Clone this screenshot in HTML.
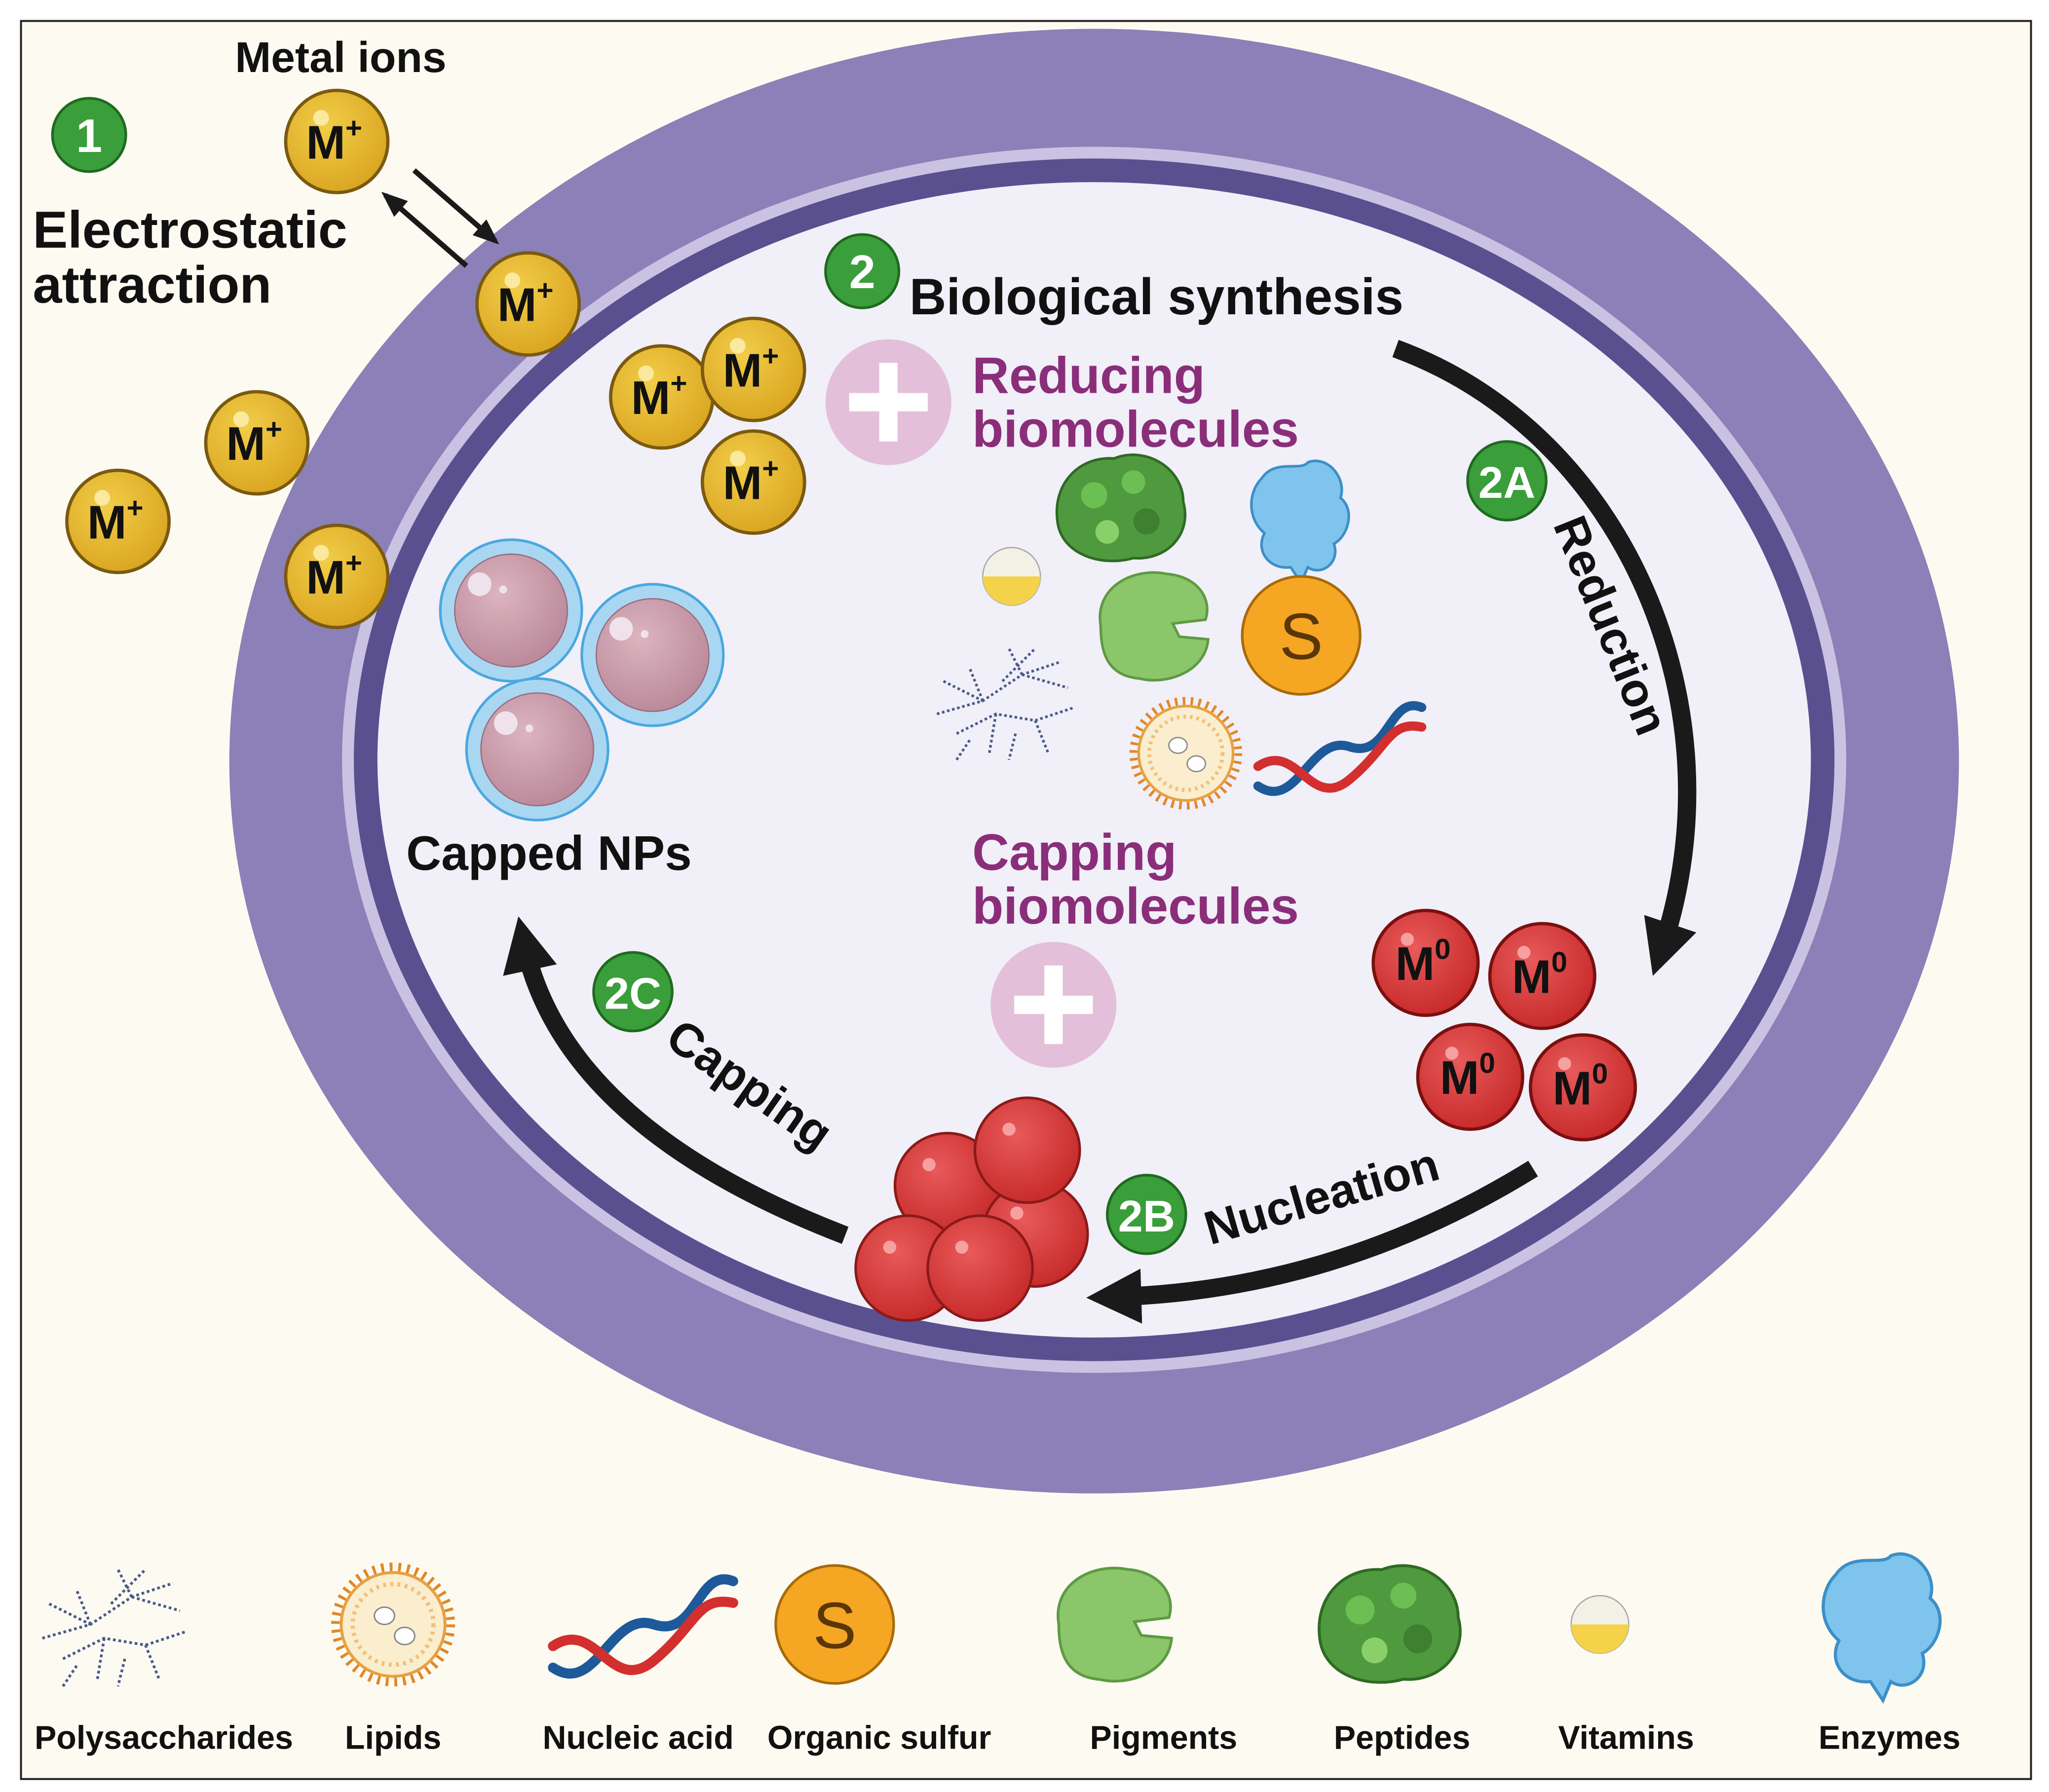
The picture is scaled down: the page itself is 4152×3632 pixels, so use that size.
<!DOCTYPE html>
<html><head><meta charset="utf-8"><style>
html,body{margin:0;padding:0;background:#fff;}
svg{display:block;}
text{font-family:"Liberation Sans",sans-serif;font-weight:bold;}
</style></head><body>
<svg width="4152" height="3632" viewBox="0 0 1563.7 1367.9" xmlns="http://www.w3.org/2000/svg">
<defs>
<radialGradient id="gold" cx="0.4" cy="0.35" r="0.7"><stop offset="0" stop-color="#f2cd48"/><stop offset="1" stop-color="#d9a420"/></radialGradient>
<radialGradient id="red" cx="0.4" cy="0.35" r="0.7"><stop offset="0" stop-color="#e85a5a"/><stop offset="1" stop-color="#c62828"/></radialGradient>
<radialGradient id="pink" cx="0.4" cy="0.35" r="0.7"><stop offset="0" stop-color="#dcb4c0"/><stop offset="1" stop-color="#b98898"/></radialGradient>
<g id="mp"><circle r="39" fill="url(#gold)" stroke="#7a5a10" stroke-width="2.5"/><circle cx="-12" cy="-18" r="6" fill="#fbe9a0"/><text x="-2" y="13" font-size="36" text-anchor="middle" fill="#111">M<tspan font-size="22" dy="-16">+</tspan></text></g>
<g id="m0"><circle r="40" fill="url(#red)" stroke="#7a1010" stroke-width="2.5"/><circle cx="-14" cy="-18" r="5" fill="#f7a0a0"/><text x="-2" y="13" font-size="36" text-anchor="middle" fill="#111">M<tspan font-size="22" dy="-16">0</tspan></text></g>
<g id="rs"><circle r="40" fill="url(#red)" stroke="#8a1a1a" stroke-width="2"/><circle cx="-14" cy="-16" r="5" fill="#f7a0a0"/></g>
<g id="np"><circle r="54" fill="#a9d7f2" stroke="#4aa8df" stroke-width="2"/><circle r="43" fill="url(#pink)" stroke="#9a6e80" stroke-width="1"/><circle cx="-24" cy="-20" r="9" fill="#f0e2ea"/><circle cx="-6" cy="-16" r="3" fill="#f0e2ea"/></g>
<g id="plus"><circle r="48" fill="#e3bfd9"/><rect x="-30" y="-7" width="60" height="14" fill="#fff"/><rect x="-7" y="-30" width="14" height="60" fill="#fff"/></g>
<g id="S"><circle r="45" fill="#f5a623" stroke="#a86a08" stroke-width="2"/><text y="18" font-size="50" text-anchor="middle" fill="#5a3608" style="font-weight:normal">S</text></g>
<g id="pep"><path d="M-48,10 C-52,-20 -30,-40 -5,-38 C20,-48 48,-30 48,-5 C55,20 35,40 10,38 C-15,45 -45,35 -48,10Z" fill="#4f9a3e" stroke="#2f6a24" stroke-width="2"/><circle cx="-20" cy="-10" r="10" fill="#6cbf52"/><circle cx="10" cy="-20" r="9" fill="#6cbf52"/><circle cx="20" cy="10" r="10" fill="#3e7f30"/><circle cx="-10" cy="18" r="9" fill="#8ad06a"/></g>
<g id="pig"><path d="M-40,0 C-45,-30 -15,-45 10,-40 C35,-38 45,-20 40,-5 L15,-2 L20,8 L42,10 C40,35 10,45 -10,40 C-35,38 -40,20 -40,0Z" fill="#8cc66a" stroke="#5e9a44" stroke-width="2"/></g>
<g id="enz"><path d="M-30,-30 C-20,-45 0,-35 5,-42 C20,-48 35,-30 30,-15 C42,-5 35,15 25,20 C30,35 15,45 5,38 L0,50 L-8,38 C-25,40 -35,25 -28,12 C-42,0 -40,-20 -30,-30Z" fill="#7fc4ec" stroke="#3c8fc8" stroke-width="2"/></g>
<g id="vit"><circle r="22" fill="#f3f0e6" stroke="#aaa" stroke-width="1"/><path d="M-22,0 A22,22 0 0 0 22,0Z" fill="#f4d34a"/></g>
<g id="lip"><circle r="40" fill="none" stroke="#e0882a" stroke-width="6" stroke-dasharray="2 4"/><circle r="36" fill="#fbeecf" stroke="#e8a040" stroke-width="2"/><circle r="28" fill="none" stroke="#f1c07a" stroke-width="3" stroke-dasharray="2 3"/><ellipse cx="-6" cy="-6" rx="7" ry="6" fill="#fff" stroke="#888"/><ellipse cx="8" cy="8" rx="7" ry="6" fill="#fff" stroke="#888"/></g>
<g id="poly" fill="none" stroke="#4a5a8a" stroke-width="2" stroke-dasharray="2 2"><path d="M-55,10 L-20,0 L10,-20 L40,-30"/><path d="M-40,25 L-10,10 L20,15 L50,5"/><path d="M-20,0 L-30,-25"/><path d="M10,-20 L0,-40"/><path d="M-10,10 L-15,40"/><path d="M20,15 L30,40"/><path d="M-50,-15 L-20,0"/><path d="M10,-20 L45,-10"/><path d="M-30,30 L-40,45"/><path d="M5,25 L0,45"/><path d="M-5,-15 L20,-40"/></g>
<g id="dna" fill="none" stroke-width="7" stroke-linecap="round"><path d="M-60,30 C-30,50 -20,-10 10,0 C40,10 40,-40 65,-30" stroke="#1e5a9a"/><path d="M-60,15 C-30,-5 -20,50 10,25 C40,0 40,-20 65,-15" stroke="#d32f2f"/></g>
<marker id="ah" viewBox="0 0 10 10" refX="5" refY="5" markerWidth="3" markerHeight="3" orient="auto"><path d="M0,0 L10,5 L0,10Z" fill="#1a1a1a"/></marker>
<marker id="sh" viewBox="0 0 10 10" refX="8" refY="5" markerWidth="5" markerHeight="5" orient="auto"><path d="M0,1 L10,5 L0,9Z" fill="#1a1a1a"/></marker>
</defs>
<rect x="0" y="0" width="1563.7" height="1367.9" fill="#fff"/>
<rect x="16" y="16" width="1534" height="1342" fill="#fdfbf1" stroke="#222" stroke-width="1.5"/>
<ellipse cx="835" cy="581" rx="660" ry="559" fill="#8b80b7"/>
<ellipse cx="835" cy="580" rx="574" ry="468" fill="#c9c2e2"/>
<ellipse cx="835" cy="580" rx="565" ry="459" fill="#5a4f8f"/>
<ellipse cx="835" cy="580" rx="547" ry="441" fill="#f1eff8"/>
<path d="M1065,266 C1240,330 1330,540 1268,725" fill="none" stroke="#1a1a1a" stroke-width="14" marker-end="url(#ah)"/>
<path d="M1170,892 Q1020,985 850,990" fill="none" stroke="#1a1a1a" stroke-width="14" marker-end="url(#ah)"/>
<path d="M645,943 Q430,860 400,720" fill="none" stroke="#1a1a1a" stroke-width="14" marker-end="url(#ah)"/>
<line x1="316" y1="130" x2="378" y2="184" stroke="#1a1a1a" stroke-width="4" marker-end="url(#sh)"/>
<line x1="356" y1="203" x2="294" y2="149" stroke="#1a1a1a" stroke-width="4" marker-end="url(#sh)"/>
<use href="#mp" x="257" y="108"/><use href="#mp" x="403" y="232"/><use href="#mp" x="505" y="303"/><use href="#mp" x="575" y="282"/><use href="#mp" x="575" y="368"/><use href="#mp" x="196" y="338"/><use href="#mp" x="90" y="398"/><use href="#mp" x="257" y="440"/>
<use href="#m0" x="1088" y="735"/><use href="#m0" x="1177" y="745"/><use href="#m0" x="1122" y="822"/><use href="#m0" x="1208" y="830"/>
<use href="#rs" x="723" y="905"/><use href="#rs" x="790" y="942"/><use href="#rs" x="784" y="878"/><use href="#rs" x="693" y="968"/><use href="#rs" x="748" y="968"/>
<use href="#np" x="390" y="466"/><use href="#np" x="498" y="500"/><use href="#np" x="410" y="572"/>
<use href="#plus" x="678" y="307"/><use href="#plus" x="804" y="767"/>
<use href="#pep" x="855" y="388"/><use href="#pig" x="880" y="478"/><use href="#enz" x="993" y="395"/><use href="#vit" x="772" y="440"/><use href="#S" x="993" y="485"/><use href="#poly" x="770" y="535"/><use href="#lip" x="905" y="575"/><use href="#dna" x="1020" y="570"/>
<g fill="#3a9e3a" stroke="#1f6a1f" stroke-width="2"><circle cx="68" cy="103" r="28"/><circle cx="658" cy="207" r="28"/><circle cx="1150" cy="367" r="30"/><circle cx="875" cy="927" r="30"/><circle cx="483" cy="757" r="30"/></g>
<g fill="#fff" text-anchor="middle" font-size="36"><text x="68" y="116">1</text><text x="658" y="220">2</text><text x="1150" y="380" font-size="34">2A</text><text x="875" y="940" font-size="34">2B</text><text x="483" y="770" font-size="34">2C</text></g>
<text x="260" y="55" font-size="33" text-anchor="middle" fill="#111">Metal ions</text>
<text x="25" y="189" font-size="40" fill="#111">Electrostatic</text>
<text x="25" y="231" font-size="40" fill="#111">attraction</text>
<text x="694" y="240" font-size="39" fill="#111">Biological synthesis</text>
<text x="742" y="300" font-size="39" fill="#8a2e7a">Reducing</text>
<text x="742" y="341" font-size="39" fill="#8a2e7a">biomolecules</text>
<text x="742" y="664" font-size="39" fill="#8a2e7a">Capping</text>
<text x="742" y="705" font-size="39" fill="#8a2e7a">biomolecules</text>
<text x="310" y="664" font-size="37" fill="#111">Capped NPs</text>
<text transform="translate(1218,482) rotate(68)" font-size="36" text-anchor="middle" fill="#111">Reduction</text>
<text transform="translate(1012,925) rotate(-16)" font-size="36" text-anchor="middle" fill="#111">Nucleation</text>
<text transform="translate(565,838) rotate(35)" font-size="36" text-anchor="middle" fill="#111">Capping</text>
<use href="#poly" transform="translate(90,1240) scale(1.05)"/>
<use href="#lip" transform="translate(300,1240) scale(1.1)"/>
<use href="#dna" transform="translate(488,1240) scale(1.1)"/>
<use href="#S" x="637" y="1240"/>
<use href="#pig" transform="translate(850,1240) scale(1.05)"/>
<use href="#pep" transform="translate(1060,1240) scale(1.1)"/>
<use href="#vit" x="1221" y="1240"/>
<use href="#enz" transform="translate(1437,1238) scale(1.2)"/>
<g font-size="25" fill="#111" text-anchor="middle">
<text x="125" y="1335">Polysaccharides</text><text x="300" y="1335">Lipids</text><text x="487" y="1335">Nucleic acid</text><text x="671" y="1335">Organic sulfur</text><text x="888" y="1335">Pigments</text><text x="1070" y="1335">Peptides</text><text x="1241" y="1335">Vitamins</text><text x="1442" y="1335">Enzymes</text>
</g>
</svg>
</body></html>
